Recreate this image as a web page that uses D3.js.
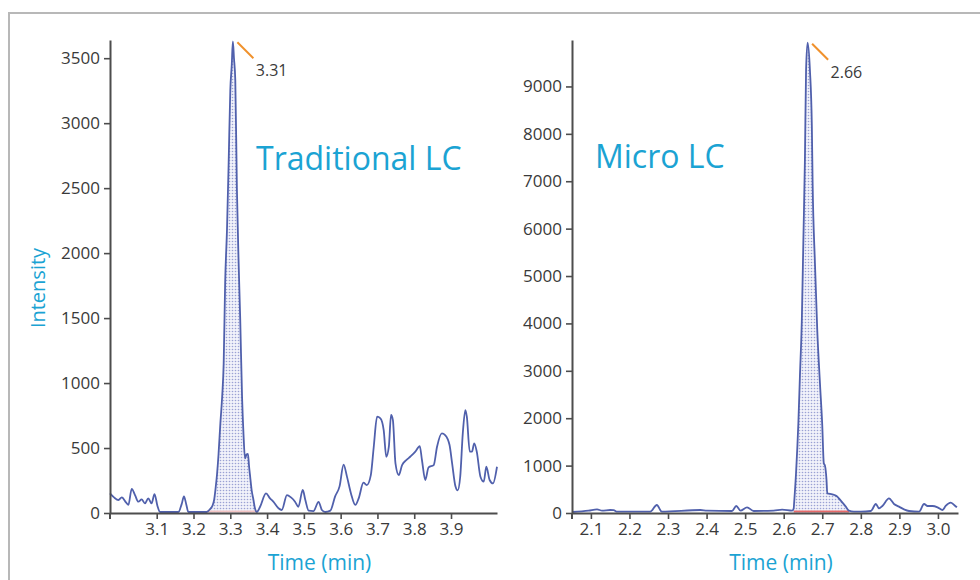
<!DOCTYPE html>
<html>
<head>
<meta charset="utf-8">
<script src="https://cdn.jsdelivr.net/npm/d3@7"></script>
<style>
  body { margin: 0; background: #fff; }
  svg { display: block; font-family: "Open Sans", "Noto Sans", sans-serif; }
</style>
</head>
<body>
<div id="chart"></div>
<script>
// traditional LC trace (time in min, intensity)
var tradTime = [2.973, 2.984, 2.996, 3.005, 3.017, 3.023, 3.032, 3.041, 3.050, 3.059, 3.068, 3.077, 3.086, 3.094, 3.102, 3.109,
  3.159, 3.168, 3.174, 3.180, 3.186, 3.236, 3.245, 3.252, 3.256, 3.260, 3.264, 3.268, 3.273, 3.278, 3.282, 3.286, 3.291, 3.2955,
  3.300, 3.304, 3.307, 3.310, 3.3136, 3.318, 3.3227, 3.327, 3.332, 3.336, 3.340, 3.344, 3.348, 3.351, 3.354, 3.358, 3.363, 3.367, 3.372,
  3.381, 3.397, 3.408, 3.417, 3.431, 3.440, 3.454, 3.465, 3.476, 3.485, 3.497, 3.504, 3.513, 3.526, 3.540, 3.549, 3.558, 3.572,
  3.585, 3.597, 3.608, 3.617, 3.628, 3.640, 3.649, 3.662, 3.671, 3.682, 3.690, 3.699, 3.708, 3.717, 3.724, 3.731, 3.737, 3.742,
  3.749, 3.758, 3.767, 3.779, 3.789, 3.803, 3.815, 3.821, 3.830, 3.839, 3.853, 3.862, 3.875, 3.884, 3.896, 3.903, 3.912, 3.918,
  3.925, 3.932, 3.939, 3.943, 3.951, 3.957, 3.963, 3.970, 3.980, 3.989, 3.996, 4.005, 4.014, 4.025];
var tradIntensity = [151, 120, 100, 120, 80, 62, 185, 138, 87, 105, 74, 113, 74, 146, 54, 0,
  0, 70, 128, 70, 0, 0, 30, 60, 100, 190, 300, 450, 690, 900, 1150, 1770, 2180, 2690,
  3250, 3450, 3630, 3500, 3330, 2490, 1920, 1490, 890, 600, 420, 450, 455, 360, 280, 177, 100, 36, 0,
  48, 151, 113, 87, 36, 23, 138, 120, 87, 48, 177, 100, 18, 15, 85, 23, 0, 18,
  128, 205, 372, 282, 151, 62, 113, 233, 215, 292, 510, 741, 728, 638, 433, 510, 754, 715,
  382, 292, 369, 408, 433, 472, 515, 408, 254, 351, 369, 510, 613, 600, 523, 382, 205, 174,
  279, 613, 792, 741, 472, 472, 536, 472, 279, 241, 356, 254, 228, 356];

// micro LC trace
var microTime = [2.052, 2.094, 2.116, 2.129, 2.150, 2.159, 2.168, 2.254, 2.271, 2.284, 2.384, 2.401, 2.466, 2.477, 2.488, 2.505,
  2.522, 2.574, 2.596, 2.622, 2.626, 2.627, 2.632, 2.638, 2.642, 2.647, 2.651, 2.655, 2.658, 2.662, 2.668, 2.673, 2.675,
  2.681, 2.687, 2.694, 2.700, 2.704, 2.707, 2.711, 2.713, 2.726, 2.737, 2.748, 2.761, 2.769, 2.782, 2.800, 2.826, 2.839,
  2.847, 2.856, 2.873, 2.886, 2.899, 2.912, 2.925, 2.951, 2.964, 2.973, 2.986, 2.999, 3.012, 3.020, 3.033, 3.042, 3.049];
var microIntensity = [20, 49, 77, 49, 63, 60, 28, 28, 169, 28, 63, 49, 42, 148, 49, 120,
  42, 49, 70, 49, 98, 211, 844, 1892, 2876, 4072, 5759, 7447, 9346, 9922, 9346, 8150, 6962,
  5274, 3861, 2742, 1850, 1048, 1000, 700, 415, 394, 359, 260, 134, 49, 28, 28, 42, 190,
  98, 148, 310, 190, 134, 77, 42, 28, 190, 148, 148, 120, 63, 148, 218, 169, 120];

var tradTicksY = [0, 500, 1000, 1500, 2000, 2500, 3000, 3500];
var microTicksY = [0, 1000, 2000, 3000, 4000, 5000, 6000, 7000, 8000, 9000];
var tradTicksX = [3.1, 3.2, 3.3, 3.4, 3.5, 3.6, 3.7, 3.8, 3.9];
var microTicksX = [2.1, 2.2, 2.3, 2.4, 2.5, 2.6, 2.7, 2.8, 2.9, 3.0];

var tradPeak = {time: 3.307, value: 3630, label: "3.31", from: 3.236, to: 3.372};
var microPeak = {time: 2.662, value: 9922, label: "2.66", from: 2.626, to: 2.770};

var width = 980, height = 580;
var lineColor = "#5060ac";
var accent = "#1ba3d3";

var svg = d3.select("#chart").append("svg")
    .attr("width", width)
    .attr("height", height);

var defs = svg.append("defs");
var pat = defs.append("pattern")
    .attr("id", "dots")
    .attr("width", 3)
    .attr("height", 3)
    .attr("patternUnits", "userSpaceOnUse");
pat.append("rect").attr("width", 3).attr("height", 3).attr("fill", "#f1f2fa");
pat.append("circle").attr("cx", 1.5).attr("cy", 1.5).attr("r", 0.8).attr("fill", "#9aa1d4");

// outer frame
svg.append("path")
    .attr("d", "M9,600 L9,13 L1000,13")
    .attr("fill", "none")
    .attr("stroke", "#b8b8b8")
    .attr("stroke-width", 2);

function drawPanel(cfg) {
  var x = d3.scaleLinear().domain(cfg.xDomain).range([cfg.left, cfg.right]);
  var y = d3.scaleLinear().domain([0, cfg.yMax]).range([cfg.bottom, cfg.top]);

  var g = svg.append("g");
  var pts = cfg.time.map(function(t, i) { return {t: t, v: cfg.values[i]}; });

  // integrated peak area
  var peakPts = pts.filter(function(d) { return d.t >= cfg.peak.from && d.t <= cfg.peak.to; });
  g.append("path")
      .datum(peakPts)
      .attr("fill", "url(#dots)")
      .attr("d", d3.area()
        .curve(d3.curveMonotoneX)
        .x(function(d) { return x(d.t); })
        .y0(y(0))
        .y1(function(d) { return y(d.v); }));

  g.append("line")
      .attr("x1", x(cfg.peak.from))
      .attr("x2", x(cfg.peak.to))
      .attr("y1", y(0) - 1.5)
      .attr("y2", y(0) - 1.5)
      .attr("stroke", cfg.baseColor)
      .attr("stroke-width", 2);

  g.append("path")
      .datum(pts)
      .attr("fill", "none")
      .attr("stroke", lineColor)
      .attr("stroke-width", 1.8)
      .attr("stroke-linejoin", "round")
      .attr("d", d3.line()
        .curve(d3.curveMonotoneX)
        .x(function(d) { return x(d.t); })
        .y(function(d) { return Math.min(y(d.v), y(0) - 1); }));

  // axes
  var xAxis = d3.axisBottom(x)
      .tickValues(cfg.ticksX)
      .tickFormat(d3.format(".1f"))
      .tickSize(6)
      .tickSizeOuter(0)
      .tickPadding(4);
  var yAxis = d3.axisLeft(y)
      .tickValues(cfg.ticksY)
      .tickFormat(d3.format("d"))
      .tickSize(6)
      .tickSizeOuter(0)
      .tickPadding(4);

  var gx = g.append("g")
      .attr("transform", "translate(0," + cfg.bottom + ")")
      .call(xAxis);
  var gy = g.append("g")
      .attr("transform", "translate(" + cfg.left + ",0)")
      .call(yAxis);

  [gx, gy].forEach(function(a) {
    a.select(".domain").attr("stroke", "#4d4d4d").attr("stroke-width", 2);
    a.selectAll(".tick line").attr("stroke", "#4d4d4d").attr("stroke-width", 1.6);
    a.selectAll(".tick text")
        .attr("fill", "#3a3a3a")
        .style("font-size", "17px")
        .style("font-family", "'Open Sans', sans-serif");
  });
  // y axis line runs a little below the x axis
  g.append("line")
      .attr("x1", cfg.left).attr("x2", cfg.left)
      .attr("y1", cfg.bottom).attr("y2", cfg.bottom + 6)
      .attr("stroke", "#4d4d4d").attr("stroke-width", 2);

  // peak label
  var px = x(cfg.peak.time), py = y(cfg.peak.value);
  g.append("line")
      .attr("x1", px + 4.5).attr("y1", py + 1)
      .attr("x2", px + 20.5).attr("y2", py + 17)
      .attr("stroke", "#f0912c")
      .attr("stroke-width", 2);
  g.append("text")
      .attr("x", px + 23)
      .attr("y", py + 35)
      .attr("fill", "#3a3a3a")
      .style("font-size", "16px")
      .text(cfg.peak.label);

  g.append("text")
      .attr("x", cfg.titleX)
      .attr("y", cfg.titleY)
      .attr("fill", accent)
      .style("font-size", "32px")
      .text(cfg.title);

  g.append("text")
      .attr("x", (cfg.left + cfg.right) / 2 + 16)
      .attr("y", 570)
      .attr("text-anchor", "middle")
      .attr("fill", accent)
      .style("font-size", "21px")
      .text("Time (min)");
}

drawPanel({
  time: tradTime, values: tradIntensity, peak: tradPeak,
  xDomain: [2.973, 4.025], yMax: 3640,
  left: 110, right: 497, top: 40, bottom: 513,
  ticksX: tradTicksX, ticksY: tradTicksY,
  baseColor: "#f2c4c4",
  title: "Traditional LC", titleX: 256, titleY: 170
});

drawPanel({
  time: microTime, values: microIntensity, peak: microPeak,
  xDomain: [2.051, 3.052], yMax: 9980,
  left: 572, right: 958, top: 40, bottom: 513,
  ticksX: microTicksX, ticksY: microTicksY,
  baseColor: "#e66a6a",
  title: "Micro LC", titleX: 595, titleY: 168
});

svg.append("text")
    .attr("transform", "translate(45,288) rotate(-90)")
    .attr("text-anchor", "middle")
    .attr("fill", accent)
    .style("font-size", "20px")
    .text("Intensity");
</script>
</body>
</html>
